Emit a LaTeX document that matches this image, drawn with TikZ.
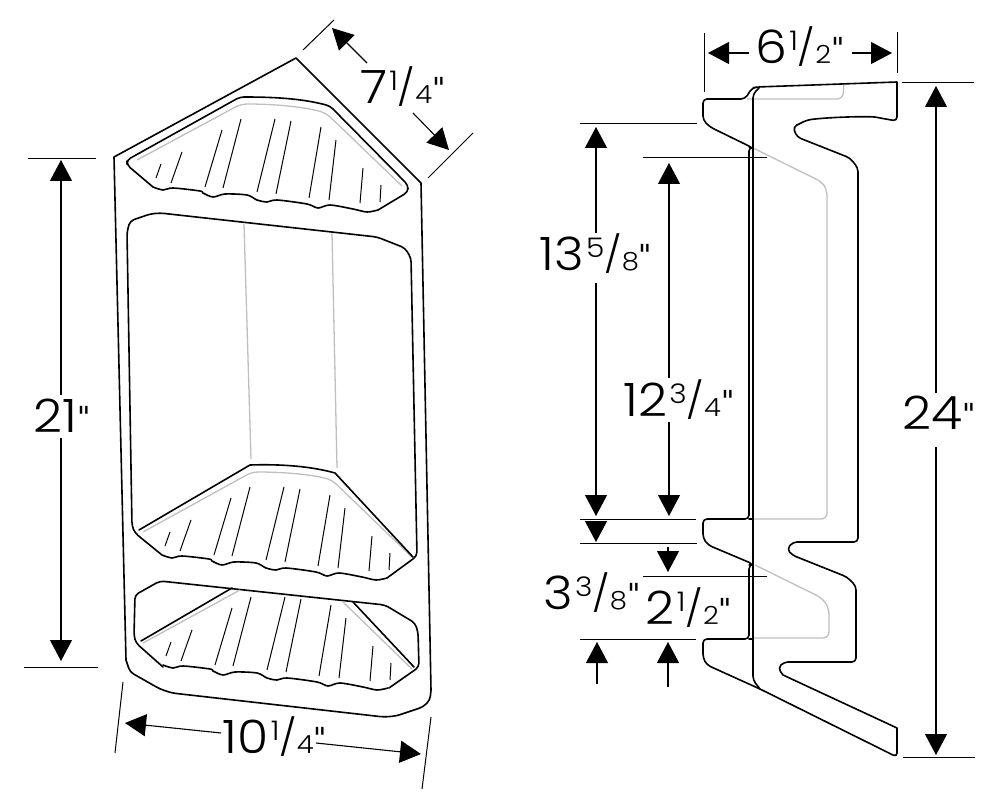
\documentclass[tikz,border=0pt]{standalone}
\usepackage{fontspec}
\setmainfont{Poppins}[UprightFont=*-Light,FakeStretch=1.1]
\newfontfamily\tickfont{DejaVu Sans}
\usetikzlibrary{arrows.meta}
\tikzset{outline/.style={line width=1.6pt,line join=round,line cap=round,rounded corners=4pt},
    ghost/.style={line width=1.3pt,color=black!25,line join=round,rounded corners=6pt},
    hatch/.style={line width=1pt},
    extline/.style={line width=1pt},
    dimarrow/.style={line width=1.1pt,-{Triangle[length=21pt,width=22pt]}},
    dimlabel/.style={inner sep=0pt,font=\fontsize{46}{46}\selectfont}}
\newcommand{\inchmark}{\raisebox{5pt}{\fontsize{29}{29}\tickfont\selectfont"}}
\newcommand{\inchfrac}[2]{\kern2pt\raisebox{13pt}{\fontsize{27}{27}\selectfont #1}\raisebox{3pt}{\fontsize{36}{36}\selectfont/}{\fontsize{25}{25}\selectfont #2}\inchmark}
\newcommand{\shelfwave}{(378,210) (367,212) (353,209) (330,205) (318,208) (307,204) (277,200) (267,202) (257,200) (247,195) (225,194) (213,197) (203,193) (200,191) (173,188) (163,190) (153,187)}
\newcommand{\shelfhatch}{%
    \foreach \xa/\ya/\xb/\yb in {161/164/156/178, 182/152/171/183, 222/130/205/187, 241/119/223/188,
        275/119/257/192, 291/121/276/194, 321/127/309/198, 336/140/329/200, 363/168/360/203, 381/185/380/202}
        \draw[hatch] (\xa,\ya) -- (\xb,\yb);}

\begin{document}
\begin{tikzpicture}[x=1pt,y=-1pt]
    \useasboundingbox (0,0) rectangle (994,797);
    % front view
    \draw[outline] (126,660) [sharp corners] -- (114,157) -- (296,58) -- (421,183) -- (431,690) [rounded corners=4pt] -- (430,700) -- (423,707) -- (396,716) -- (384,717)
        -- (172,693) -- (160,689) -- (130,672) -- (126,660);
    \draw[ghost] (244,224) -- (251,459);
    \draw[ghost] (332,233) -- (337,468);
    % top shelf
    \draw[outline] (378,210) -- (408,192) -- (408,185) -- (330,106) .. controls (300,98) and (270,97) .. (240,97)
        -- (127,160) -- (127,165) -- (153,187);
    \draw[outline,rounded corners=0pt,smooth] plot coordinates {\shelfwave};
    \draw[ghost] (137,160) -- (241,104) .. controls (270,104) and (300,106) .. (326,113) -- (402,186);
    \shelfhatch
    % middle opening
    \draw[outline] (162,555) -- (135,533) -- (132,526) -- (127,232) -- (130,221) -- (150,214) -- (160,213)
        -- (377,237) -- (405,248) -- (411,258) -- (417,556) -- (387,578);
    \begin{scope}[shift={(9,368)}]
        \draw[outline,rounded corners=0pt,smooth] plot coordinates {\shelfwave};
        \shelfhatch
    \end{scope}
    \draw[ghost] (143,532) -- (252,472) .. controls (280,472) and (310,474) .. (332,480) -- (413,558);
    \draw[outline,rounded corners=0pt] (139,530) -- (250,465) .. controls (280,464) and (310,466) .. (335,473) -- (413,557);
    % lower opening
    \draw[outline] (163,667) -- (136,643) -- (134,636) -- (135,595) -- (160,581) -- (385,605) -- (415,623) -- (418,632)
        -- (419,667) -- (389,688);
    \begin{scope}[shift={(10,478)}]
        \draw[outline,rounded corners=0pt,smooth] plot coordinates {\shelfwave};
        \shelfhatch
    \end{scope}
    \draw[ghost] (143,643) -- (240,590);
    \draw[ghost] (343,602) -- (412,669);
    \draw[outline] (141,641) -- (232,588);
    \draw[outline] (353,602) -- (414,667);
    % side view
    \draw[ghost] (747,99) -- (843,99) -- (844,83);
    \draw[ghost] (753,148) -- (822,182) -- (827,190) -- (827,519) -- (753,519);
    \draw[ghost] (755,565) -- (822,598) -- (829,608) -- (829,638) -- (753,638);
    \draw[outline] (897,82) -- (757,87) -- (752,88) -- (745,99) -- (703,99) -- (703,120) -- (710,127) -- (753,148)
        -- (749,147) -- (749,519) -- (703,519) -- (703,538) -- (708,545) -- (753,564) -- (749,565) -- (749,639)
        -- (703,639) -- (703,658) -- (707,665) -- (760,689) -- (897,757) [sharp corners] -- (897,728) -- (783,675) [rounded corners=4pt] -- (778,668) -- (784,662)
        -- (856,662) -- (856,586) -- (847,577) -- (792,555) -- (787,549) -- (793,542) -- (858,542) -- (858,168)
        -- (850,158) -- (797,137) -- (793,127) -- (807,120) .. controls (830,117) and (870,116) .. (880,118) -- (897,121) [sharp corners] -- (897,82);
    \draw[outline] (759,88) -- (753,94) -- (753,680) -- (760,689);
    \draw[outline,rounded corners=0pt] (749,519) -- (753,519);
    \draw[outline,rounded corners=0pt] (749,639) -- (753,639);
    % extension lines
    \foreach \extname/\xa/\ya/\xb/\yb in {a/303/50/334/20, b/428/178/473/133, c/28/159/96/159, d/24/667/98/667,
        e/123/682/115/753, f/431/717/422/789, g/704/33/704/92, h/897/32/897/73, i/902/83/974/83, j/903/757/975/757,
        k/580/124/697/124, l/643/158/767/158, m/580/519/696/519, n/580/543/697/543, o/643/576/767/576, p/580/639/696/639}
    {
        \coordinate (\extname1) at (\xa,\ya);
        \coordinate (\extname2) at (\xb,\yb);
        \draw[extline] (\extname1) -- (\extname2);
    }
    % dimension arrows
    \foreach \arrname/\xa/\ya/\xb/\yb in {wa/367/63/332/28, wb/413/113/449/150, ta/61/395/61/160, tb/61/438/61/661,
        ua/221/733/125/723, ub/316/743/421/754, va/749/53/708/53, vb/852/53/892/53, ra/936/393/936/86, rb/936/447/936/755,
        sa/596/233/596/127, sb/596/283/596/516, qa/669/378/669/163, qb/669/422/669/516, pa/596/521/596/542, pb/597/684/597/642,
        oa/668/547/668/572, ob/668/687/668/642}
    {
        \coordinate (\arrname s) at (\xa,\ya);
        \coordinate (\arrname t) at (\xb,\yb);
        \draw[dimarrow] (\arrname s) -- (\arrname t);
    }
    % labels
    \node[dimlabel] (sevenlabel) at (403,87) {7\inchfrac{1}{4}};
    \node[dimlabel] (twentyonelabel) at (62,416) {21\inchmark};
    \node[dimlabel] (tenlabel) at (275,737) {10\inchfrac{1}{4}};
    \node[dimlabel] (sixlabel) at (800,47) {6\inchfrac{1}{2}};
    \node[dimlabel] (twentyfourlabel) at (939,413) {24\inchmark};
    \node[dimlabel] (thirteenlabel) at (596,254) {13\inchfrac{5}{8}};
    \node[dimlabel] (twelvelabel) at (679,400) {12\inchfrac{3}{4}};
    \node[dimlabel] (threelabel) at (592,593) {3\inchfrac{3}{8}};
    \node[dimlabel] (twolabel) at (689,608) {2\inchfrac{1}{2}};
\end{tikzpicture}
\end{document}
